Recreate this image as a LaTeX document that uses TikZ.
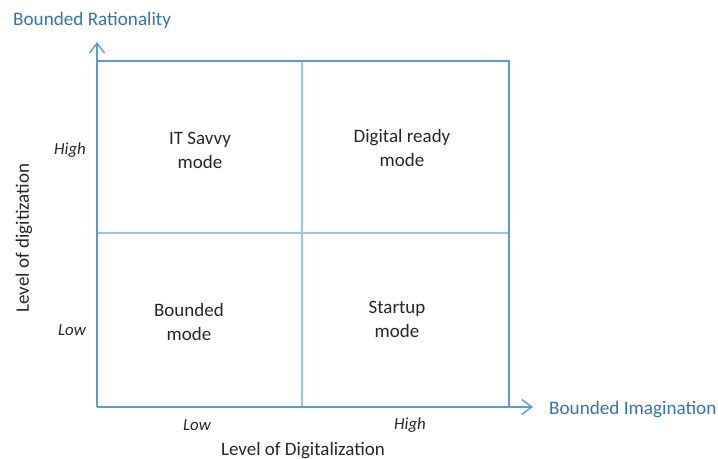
\documentclass[tikz,border=0pt]{standalone}
\usepackage{fontspec}
\setmainfont{Carlito}
\usepackage{tikz}
\usetikzlibrary{arrows.meta,positioning}
\definecolor{axisblue}{HTML}{5B9BD5}
\definecolor{gridblue}{HTML}{9DC3E6}
\definecolor{labelblue}{HTML}{2E75B6}
\definecolor{textgray}{HTML}{262626}
\tikzset{
  axisline/.style={line width=1.3pt, draw=axisblue},
  axisarr/.style={axisline, -{Straight Barb[length=2mm,width=3mm,line width=0.8pt]}},
  frameline/.style={line width=0.9pt, draw=axisblue},
  gridline/.style={line width=0.9pt, draw=gridblue},
  quadtext/.style={align=center, font=\fontsize{10.8}{13.6}\selectfont, text=textgray},
  levtext/.style={font=\fontsize{9.6}{11}\selectfont\itshape, text=textgray},
  axtitle/.style={font=\fontsize{10.8}{12}\selectfont, text=textgray},
  endtext/.style={font=\fontsize{10.9}{12}\selectfont, text=labelblue}
}

\begin{document}
\begin{tikzpicture}[x=0.02cm,y=0.02cm]
  \useasboundingbox (0,0) rectangle (718,459);
  % corners and ends of the two axes
  \coordinate (o) at (97,52);
  \coordinate (ytip) at (97,417);
  \coordinate (xtip) at (533,52);
  \coordinate (tl) at (97,398);
  \coordinate (tr) at (509,398);
  \coordinate (br) at (509,52);
  \coordinate (midtop) at (302,398);
  \coordinate (midbot) at (302,52);
  \coordinate (midl) at (97,226);
  \coordinate (midr) at (509,226);
  % quadrant dividers, then frame, then axes on top
  \draw[gridline] (midtop) -- (midbot);
  \draw[gridline] (midl) -- (midr);
  \draw[frameline] (tl) -- (tr) -- (br);
  \draw[axisarr] (o) -- (ytip);
  \draw[axisarr] (o) -- (xtip);
  % axis end labels
  \node[endtext, anchor=west] (rational) at (7,439) {Bounded Rationality};
  \node[endtext, anchor=west] (imagin) at (543,49) {Bounded Imagination};
  % axis titles
  \node[axtitle] (xtitle) at (303,8) {Level of Digitalization};
  \node[axtitle, rotate=90] (ytitle) at (24,221) {Level of digitization};
  % levels
  \node[levtext] (ylow) at (72,129) {Low};
  \node[levtext] (yhigh) at (70,309) {High};
  \node[levtext] (xlow) at (197,34) {Low};
  \node[levtext] (xhigh) at (410,34) {High};
  % the four modes
  \node[quadtext] (itsavvy) at (200,309) {IT Savvy\\mode};
  \node[quadtext] (digready) at (402,311) {Digital ready\\mode};
  \node[quadtext] (bounded) at (189,137) {Bounded\\mode};
  \node[quadtext] (startup) at (397,140) {Startup\\mode};
\end{tikzpicture}
\end{document}
